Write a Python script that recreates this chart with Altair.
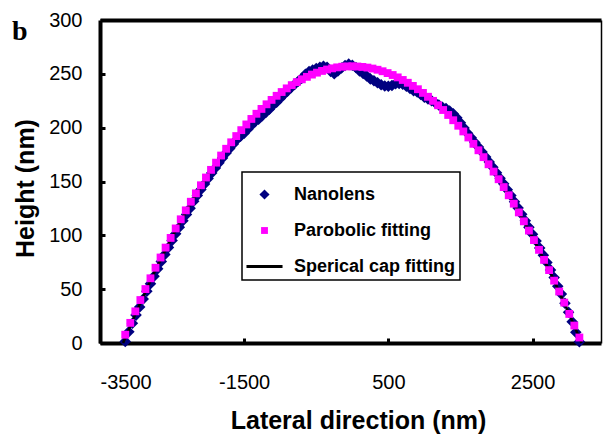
import altair as alt
import pandas as pd

series_names = ["Nanolens", "Parobolic fitting", "Sperical cap fitting"]
series_colors = ["#000080", "#FF00FF", "#000000"]

# Nanolens measured profile (lateral position in nm, height in nm)
nano_x = [-3150, -3100, -3050, -3000, -2950, -2900, -2850, -2800, -2750, -2700,
          -2650, -2600, -2550, -2500, -2450, -2400, -2350, -2300, -2250, -2200,
          -2150, -2100, -2050, -2000, -1950, -1900, -1850, -1800, -1750, -1700,
          -1650, -1600, -1550, -1500, -1450, -1400, -1350, -1300, -1250, -1200,
          -1150, -1100, -1050, -1000, -950, -900, -850, -800, -750, -700,
          -650, -600, -550, -500, -450, -400, -350, -300, -250, -200,
          -150, -100, -50, 0, 50, 100, 150, 200, 250, 300,
          350, 400, 450, 500, 550, 600, 650, 700, 750, 800,
          850, 900, 950, 1000, 1050, 1100, 1150, 1200, 1250, 1300,
          1350, 1400, 1450, 1500, 1550, 1600, 1650, 1700, 1750, 1800,
          1850, 1900, 1950, 2000, 2050, 2100, 2150, 2200, 2250, 2300,
          2350, 2400, 2450, 2500, 2550, 2600, 2650, 2700, 2750, 2800,
          2850, 2900, 2950, 3000, 3050, 3100, 3150]
nano_y = [1.5, 10.5, 18.3, 25.9, 33.4, 40.8, 48.0, 55.1, 62.1, 69.0,
          75.7, 82.3, 88.8, 95.2, 101.4, 107.5, 113.5, 119.3, 125.1, 131.7,
          137.1, 142.5, 147.7, 152.8, 157.8, 162.6, 167.3, 171.9, 176.4, 180.7,
          184.9, 189.0, 192.0, 194.8, 198.5, 202.1, 205.5, 207.8, 211.0, 214.1,
          217.1, 220.9, 223.6, 227.1, 230.6, 233.9, 237.1, 240.2, 243.1, 245.9,
          249.6, 252.1, 253.6, 254.9, 256.1, 257.1, 256.0, 252.3, 250.0, 252.6,
          255.5, 257.8, 259.0, 258.0, 255.9, 252.7, 250.4, 247.9, 245.3, 243.6,
          241.8, 239.8, 238.7, 238.5, 239.1, 240.7, 241.1, 240.3, 238.5, 236.5,
          234.4, 233.2, 230.8, 228.3, 226.7, 225.0, 223.1, 221.1, 219.0, 217.8,
          215.4, 212.9, 209.3, 204.6, 199.7, 194.7, 190.6, 186.3, 182.0, 177.4,
          172.8, 168.1, 163.2, 158.2, 153.0, 147.8, 142.4, 136.9, 131.2, 125.5,
          119.6, 113.6, 107.4, 101.1, 94.7, 88.2, 81.6, 74.8, 67.9, 60.9,
          52.7, 45.4, 37.0, 28.5, 19.8, 10.0, 1.1]

# Parabolic fitting points
para_x = [-3150, -3080, -3010, -2940, -2870, -2800, -2730, -2660, -2590, -2520,
          -2450, -2380, -2310, -2240, -2170, -2100, -2030, -1960, -1890, -1820,
          -1750, -1680, -1610, -1540, -1470, -1400, -1330, -1260, -1190, -1120,
          -1050, -980, -910, -840, -770, -700, -630, -560, -490, -420,
          -350, -280, -210, -140, -70, 0, 70, 140, 210, 280,
          350, 420, 490, 560, 630, 700, 770, 840, 910, 980,
          1050, 1120, 1190, 1260, 1330, 1400, 1470, 1540, 1610, 1680,
          1750, 1820, 1890, 1960, 2030, 2100, 2170, 2240, 2310, 2380,
          2450, 2520, 2590, 2660, 2730, 2800, 2870, 2940, 3010, 3080, 3150]
para_y = [7.7, 18.7, 29.4, 39.9, 50.1, 60.1, 69.9, 79.4, 88.6, 97.6,
          106.4, 114.9, 123.2, 131.2, 139.0, 146.5, 153.7, 160.8, 167.5, 174.1,
          180.4, 186.4, 192.2, 197.7, 203.0, 208.1, 212.9, 217.4, 221.7, 225.8,
          229.6, 233.1, 236.5, 239.5, 242.3, 244.9, 247.2, 249.3, 251.1, 252.7,
          254.0, 255.1, 256.0, 256.6, 256.9, 257.0, 256.8, 256.4, 255.8, 254.9,
          253.8, 252.4, 250.7, 248.9, 246.7, 244.3, 241.7, 238.8, 235.7, 232.3,
          228.7, 224.9, 220.8, 216.4, 211.8, 206.9, 201.8, 196.5, 190.9, 185.0,
          179.0, 172.6, 166.0, 159.2, 152.1, 144.8, 137.2, 129.4, 121.3, 113.0,
          104.4, 95.6, 86.5, 77.2, 67.7, 57.9, 47.8, 37.5, 27.0, 16.2, 5.1]

# Spherical cap fitting curve
cap_x = [-3180, -3000, -2750, -2500, -2250, -2000, -1750, -1500, -1250, -1000,
         -750, -500, -250, 0, 250, 500, 750, 1000, 1250, 1500,
         1750, 2000, 2250, 2500, 2750, 3000, 3180]
cap_y = [0.0, 28.4, 65.1, 98.6, 128.8, 155.7, 179.5, 200.1, 217.5, 231.7,
         242.8, 250.7, 255.4, 257.0, 255.4, 250.7, 242.8, 231.7, 217.5, 200.1,
         179.5, 155.7, 128.8, 98.6, 65.1, 28.4, 0.0]

x_ticks = [-3500, -1500, 500, 2500]
y_ticks = [0, 50, 100, 150, 200, 250, 300]

nano = pd.DataFrame({"x": nano_x, "y": nano_y, "series": series_names[0]})
para = pd.DataFrame({"x": para_x, "y": para_y, "series": series_names[1]})
cap = pd.DataFrame({"x": cap_x, "y": cap_y, "series": series_names[2]})

W, H = 501, 323
FONT = "Liberation Sans"
SYM = 1300      # legend symbol box: 36 px
MARK = 1700     # plot marker box: ~41 px

# symbol outlines drawn inside the symbol box
shape_range = [
    "M-0.28,0L0,-0.28L0.28,0L0,0.28Z",        # diamond
    "M-0.19,-0.19H0.19V0.19H-0.19Z",          # square
    "M-1,-0.08H1V0.08H-1Z",                   # thick line
]

xscale = alt.Scale(domain=[-3500, 3450], nice=False, zero=False)
yscale = alt.Scale(domain=[0, 300], nice=False)

legend = alt.Legend(
    orient="none", legendX=142, legendY=152, title=None,
    strokeColor="#000000", padding=4, fillColor="white",
    labelFont=FONT, labelFontSize=18, labelFontWeight="bold", labelColor="#000000",
    labelOffset=11, labelLimit=0, rowPadding=8, symbolSize=SYM, symbolStrokeWidth=0,
)
color_enc = alt.Color("series:N", scale=alt.Scale(domain=series_names, range=series_colors), legend=legend)
shape_enc = alt.Shape("series:N", scale=alt.Scale(domain=series_names, range=shape_range), legend=legend)

main_x_axis = alt.Axis(values=x_ticks, ticks=False, tickSize=0, grid=False, domainColor="black",
                       domainWidth=4, labelFont=FONT, labelFontSize=20, labelColor="black",
                       labelPadding=29, labelExpr="'' + datum.value",
                       title="Lateral direction (nm)", titleFont=FONT, titleFontSize=25,
                       titleFontWeight="bold", titleColor="black", titleBaseline="alphabetic",
                       titleX=258, titleY=85)
main_y_axis = alt.Axis(values=y_ticks, ticks=False, tickSize=0, grid=False, domainColor="black",
                       domainWidth=4, labelFont=FONT, labelFontSize=20, labelColor="black",
                       labelPadding=18,
                       title="Height (nm)", titleFont=FONT, titleFontSize=25,
                       titleFontWeight="bold", titleColor="black", titleBaseline="alphabetic",
                       titleX=-67, titleY=168)

points_nano = alt.Chart(nano).mark_point(filled=True, opacity=1, strokeWidth=0, size=MARK).encode(
    x=alt.X("x:Q", scale=xscale, axis=main_x_axis),
    y=alt.Y("y:Q", scale=yscale, axis=main_y_axis),
    color=color_enc, shape=shape_enc,
)

tick_x_axis = alt.Axis(orient="top", offset=-H, values=x_ticks, domain=False, labels=False,
                       tickSize=5, tickWidth=3, tickColor="black", grid=False, title=None)
tick_y_axis = alt.Axis(orient="right", offset=-W, values=y_ticks, domain=False, labels=False,
                       tickSize=5, tickWidth=3, tickColor="black", grid=False, title=None)

cap_line = alt.Chart(cap).mark_line(color="black", strokeWidth=2.5).encode(
    x=alt.X("x:Q", scale=xscale, axis=tick_x_axis),
    y=alt.Y("y:Q", scale=yscale, axis=tick_y_axis),
)

top_axis = alt.Axis(orient="top", domainWidth=4, domainColor="black", labels=False, ticks=False,
                    grid=False, title=None)
right_axis = alt.Axis(orient="right", domainWidth=1.5, domainColor="black", labels=False,
                      ticks=False, grid=False, title=None)

points_para = alt.Chart(para).mark_point(filled=True, opacity=1, strokeWidth=0, size=MARK).encode(
    x=alt.X("x:Q", scale=xscale, axis=top_axis),
    y=alt.Y("y:Q", scale=yscale, axis=right_axis),
    color=color_enc, shape=shape_enc,
)

chart = alt.layer(points_nano, cap_line, points_para).resolve_axis(
    x="independent", y="independent"
).properties(
    width=W, height=H,
    autosize=alt.AutoSizeParams(type="none"),
    padding={"left": 100, "top": 20, "right": 2, "bottom": 94},
    background="white",
    title=alt.TitleParams("b", anchor="start", frame="group", font="Liberation Serif",
                          fontSize=28, fontWeight="bold", color="black", offset=0,
                          dx=-88, dy=36),
).configure_view(stroke=None).configure_legend(strokeWidth=1.5)

chart.save("out.html", embed_options={"renderer": "svg", "actions": False})
